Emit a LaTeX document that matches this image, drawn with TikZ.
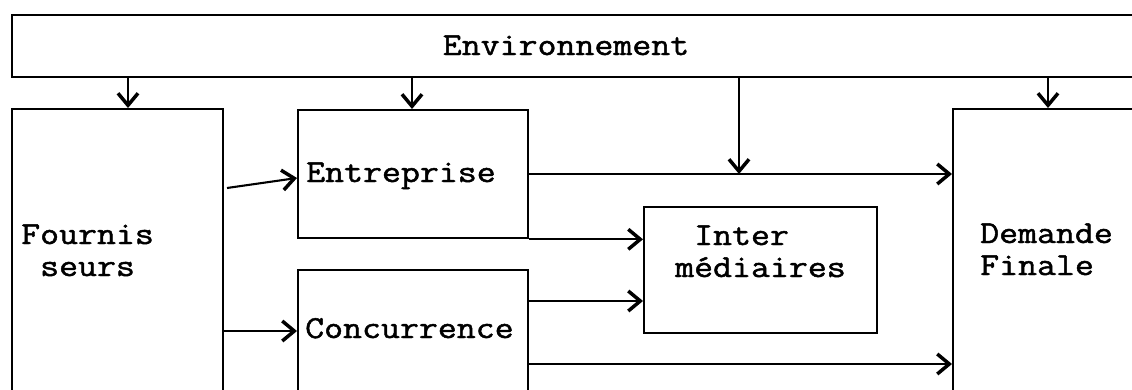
\documentclass[tikz,border=0pt]{standalone}
\usepackage{fontspec}
\newfontfamily\boxfont{Latin Modern Mono}[FakeStretch=1.15,FakeBold=1.5]
\usetikzlibrary{arrows.meta}
\begin{document}
\begin{tikzpicture}[x=1pt,y=-1pt,
  box/.style={draw, line width=2.3pt, rectangle, inner sep=0pt, anchor=north west},
  lbl/.style={inner sep=0pt, anchor=base west, font=\boxfont\fontsize{32}{32}\selectfont},
  conn/.style={line width=2.1pt, -{Straight Barb[length=12pt,width=20pt,line width=3.5pt]}}]
\useasboundingbox (0,0) rectangle (1132,389);
\clip (0,0) rectangle (1132,389);

% blocks (the outer ones run past the edges of the page)
\node[box, minimum width=1200pt, minimum height=62pt]  (env)   at (11,14)   {};
\node[box, minimum width=211pt,  minimum height=320pt] (four)  at (11,108)  {};
\node[box, minimum width=230pt,  minimum height=128pt] (entr)  at (297,109) {};
\node[box, minimum width=230pt,  minimum height=200pt] (conc)  at (297,269) {};
\node[box, minimum width=233pt,  minimum height=126pt] (inter) at (643,206) {};
\node[box, minimum width=300pt,  minimum height=320pt] (dem)   at (952,108) {};

% labels
\node[lbl, anchor=base] (envt) at (566,55) {Environnement};
\node[lbl] (fourt)  at (21,244)  {\begin{tabular}[t]{@{}l@{}}Fournis\\\ seurs\end{tabular}};
\node[lbl] (entrt)  at (306,182) {Entreprise};
\node[lbl] (conct)  at (305,338) {Concurrence};
\node[lbl] (intert) at (675,245) {\begin{tabular}[t]{@{}l@{}}\ Inter\\médiaires\end{tabular}};
\node[lbl] (demt)   at (980,243) {\begin{tabular}[t]{@{}l@{}}Demande\\Finale\end{tabular}};

% flows from the environment
\coordinate (join) at (739,174);
\draw[conn] (128,0 |- env.south)  -- (128,0 |- four.north);
\draw[conn] (412,0 |- env.south)  -- (412,0 |- entr.north);
\draw[conn] (739,0 |- env.south)  -- (join);
\draw[conn] (1048,0 |- env.south) -- (1048,0 |- dem.north);

% flows between the actors
\coordinate (fe) at (227,188);
\draw[conn] (fe) -- (entr.west |- 0,178);
\draw[conn] (four.east |- 0,331) -- (conc.west |- 0,331);
\draw[conn] (entr.south east) -- (inter.west |- entr.south);
\draw[conn] (entr.east |- join) -- (dem.west |- join);
\draw[conn] (conc.east |- 0,301) -- (inter.west |- 0,301);
\draw[conn] (conc.east |- 0,364) -- (dem.west |- 0,364);
\end{tikzpicture}
\end{document}
